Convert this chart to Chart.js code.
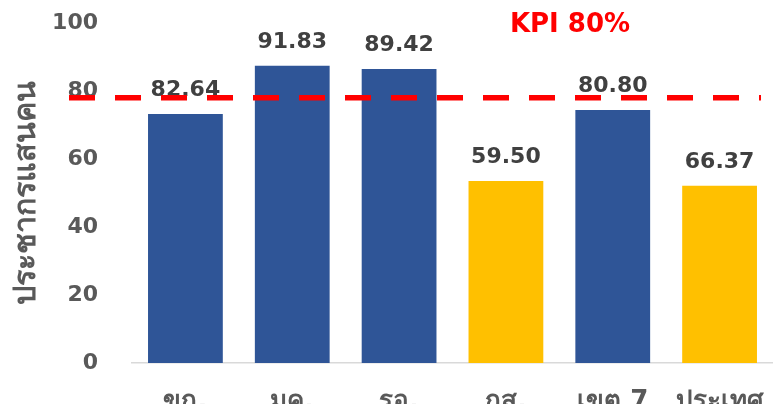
<!DOCTYPE html>
<html>
<head>
<meta charset="utf-8">
<script src="https://cdn.jsdelivr.net/npm/chart.js@4.4.1/dist/chart.umd.min.js"></script>
<style>
  body { margin: 0; background: #fff; }
  #wrap { width: 773px; height: 404px; }
</style>
</head>
<body>
<div id="wrap"><canvas id="kpi-chart" width="773" height="404"></canvas></div>
<script>
// ข้อมูลกราฟ
const categories = ["ขก.", "มค.", "รอ.", "กส.", "เขต 7", "ประเทศ"];
const barHeights = [73.2, 87.4, 86.5, 53.5, 74.4, 52.1];
const valueLabels = ["82.64", "91.83", "89.42", "59.50", "80.80", "66.37"];
const yTicks = [0, 20, 40, 60, 80, 100];
const kpiLine = 78;
const kpiText = "KPI 80%";

const barColors = ["#2F5597", "#2F5597", "#2F5597", "#FFC000", "#2F5597", "#FFC000"];
const fontFamily = "Tahoma, 'DejaVu Sans', Verdana, sans-serif";

// ป้ายตัวเลข + เส้น KPI
const overlay = {
  id: "overlay",
  afterDraw(chart) {
    const c = chart.ctx;
    const meta = chart.getDatasetMeta(0);
    c.save();
    c.font = "bold 22px " + fontFamily;
    c.fillStyle = "#404040";
    c.textAlign = "center";
    c.textBaseline = "middle";
    meta.data.forEach((bar, i) => {
      c.fillText(valueLabels[i], bar.x, bar.y - 24);
    });

    const y = chart.scales.y.getPixelForValue(kpiLine);
    c.strokeStyle = "#FF0000";
    c.lineWidth = 5.5;
    c.setLineDash([26, 20]);
    c.beginPath();
    c.moveTo(chart.chartArea.left - 63, y);
    c.lineTo(chart.chartArea.right - 12, y);
    c.stroke();

    c.setLineDash([]);
    c.font = "bold 26px " + fontFamily;
    c.fillStyle = "#FF0000";
    c.fillText(kpiText, 570, 25);
    c.restore();
  },
};

const ctx = document.getElementById("kpi-chart").getContext("2d");
new Chart(ctx, {
  type: "bar",
  data: {
    labels: categories,
    datasets: [
      {
        data: barHeights,
        backgroundColor: barColors,
        categoryPercentage: 0.7,
        barPercentage: 1,
      },
    ],
  },
  options: {
    responsive: false,
    animation: false,
    layout: { padding: { top: 23, left: 0, right: 0, bottom: 0 } },
    plugins: {
      legend: { display: false },
      tooltip: { enabled: false },
    },
    scales: {
      x: {
        grid: { display: false },
        border: { display: true, color: "#D9D9D9", width: 1.5 },
        ticks: {
          padding: 16,
          maxRotation: 0,
          autoSkip: false,
          color: "#595959",
          font: { family: fontFamily, size: 26, weight: "bold" },
        },
        afterFit(scale) {
          scale.height = 41;
          scale.paddingLeft = 0;
          scale.paddingRight = 0;
        },
      },
      y: {
        min: 0,
        max: 100,
        afterBuildTicks(scale) {
          scale.ticks = yTicks.map((v) => ({ value: v }));
        },
        grid: { display: false },
        border: { display: false },
        ticks: {
          padding: 26,
          color: "#595959",
          font: { family: fontFamily, size: 22, weight: "bold" },
        },
        title: {
          display: true,
          text: "ประชากรแสนคน",
          color: "#595959",
          font: { family: fontFamily, size: 30.5, weight: "bold" },
          padding: { top: 9, bottom: 0 },
        },
        afterFit(scale) {
          scale.width = 132;
          scale.paddingTop = 0;
          scale.paddingBottom = 0;
        },
      },
    },
  },
  plugins: [overlay],
});
</script>
</body>
</html>
